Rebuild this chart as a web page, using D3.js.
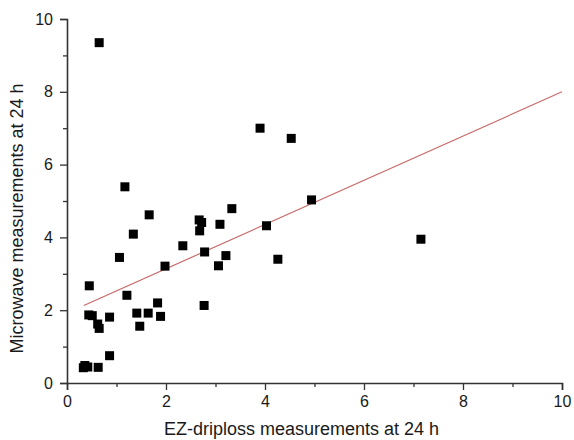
<!DOCTYPE html>
<html>
<head>
<meta charset="utf-8">
<script src="https://cdn.jsdelivr.net/npm/d3@7"></script>
<style>
  body { margin: 0; background: #fff; }
  text { font-family: "Liberation Sans", Arial, sans-serif; }
</style>
</head>
<body>
<script>
// Data
const ezDriploss = [0.65, 1.17, 1.66, 1.34, 1.06, 1.98, 0.45, 1.21, 1.83, 0.44,
  0.51, 0.86, 1.41, 1.64, 1.89, 1.47, 0.62, 0.65, 0.86, 0.36,
  0.33, 0.42, 0.63, 3.33, 2.67, 2.72, 3.09, 2.68, 2.34, 2.78,
  3.21, 3.06, 4.26, 2.77, 3.90, 4.53, 4.94, 4.03, 7.15];
const microwave = [9.35, 5.39, 4.62, 4.09, 3.45, 3.21, 2.67, 2.41, 2.20, 1.87,
  1.85, 1.81, 1.92, 1.92, 1.83, 1.56, 1.62, 1.50, 0.75, 0.48,
  0.42, 0.44, 0.43, 4.79, 4.48, 4.41, 4.36, 4.18, 3.77, 3.60,
  3.50, 3.22, 3.40, 2.13, 7.00, 6.72, 5.03, 4.32, 3.95];
// fitted line as drawn: start/end x and the y values there
const fitX = [0.34, 10];
const fitY = [2.13, 8.0];
const majorTicks = [0, 2, 4, 6, 8, 10];
const minorTicks = [1, 3, 5, 7, 9];

const margin = { top: 19, right: 12, bottom: 57, left: 67 },
      width = 574 - margin.left - margin.right,
      height = 440 - margin.top - margin.bottom;

const svg = d3.select("body")
  .append("svg")
    .attr("width", 574)
    .attr("height", 440)
  .append("g")
    .attr("transform", `translate(${margin.left},${margin.top})`);

const x = d3.scaleLinear().domain([0, 10]).range([0, width]);
const y = d3.scaleLinear().domain([0, 10]).range([height, 0]);

// Axes: major ticks with labels, minor ticks without
const xMinor = svg.append("g")
  .attr("transform", `translate(0,${height})`)
  .call(d3.axisBottom(x).tickValues(minorTicks).tickSize(4).tickFormat(""));
const xMajor = svg.append("g")
  .attr("transform", `translate(0,${height})`)
  .call(d3.axisBottom(x).tickValues(majorTicks).tickSize(7).tickPadding(6).tickFormat(d3.format("d")));
const yMinor = svg.append("g")
  .call(d3.axisLeft(y).tickValues(minorTicks).tickSize(4).tickFormat(""));
const yMajor = svg.append("g")
  .call(d3.axisLeft(y).tickValues(majorTicks).tickSize(7).tickPadding(7).tickFormat(d3.format("d")));

[xMinor, yMinor].forEach(g => g.select(".domain").remove());
[xMinor, xMajor, yMinor, yMajor].forEach(g => {
  g.selectAll(".domain").attr("stroke", "#333").attr("stroke-width", 1.6);
  g.selectAll(".tick line").attr("stroke", "#333").attr("stroke-width", 1.3);
  g.selectAll(".tick text").attr("fill", "#1a1a1a").style("font-size", "16px");
});

// Fit line
svg.append("path")
  .datum(d3.zip(fitX, fitY))
  .attr("fill", "none")
  .attr("stroke", "#c96a6a")
  .attr("stroke-width", 1.2)
  .attr("d", d3.line().x(d => x(d[0])).y(d => y(d[1])));

// Points
const sq = 9;
svg.append("g")
  .selectAll("rect")
  .data(d3.zip(ezDriploss, microwave))
  .join("rect")
    .attr("x", d => x(d[0]) - sq / 2)
    .attr("y", d => y(d[1]) - sq / 2)
    .attr("width", sq)
    .attr("height", sq)
    .attr("fill", "#000");

// Axis titles
svg.append("text")
  .attr("x", 301.5 - margin.left)
  .attr("y", 435 - margin.top)
  .attr("text-anchor", "middle")
  .attr("fill", "#1a1a1a")
  .style("font-size", "18px")
  .text("EZ-driploss measurements at 24 h");

svg.append("text")
  .attr("transform", `translate(${23 - margin.left},${218.5 - margin.top}) rotate(-90)`)
  .attr("text-anchor", "middle")
  .attr("fill", "#1a1a1a")
  .style("font-size", "18px")
  .text("Microwave measurements at 24 h");
</script>
</body>
</html>
